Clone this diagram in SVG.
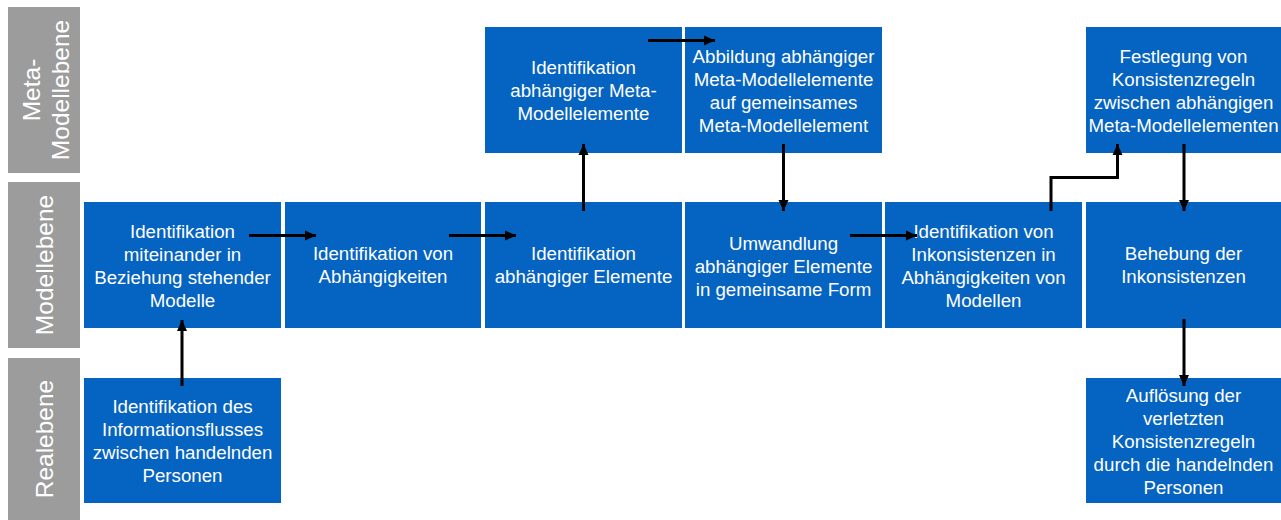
<svg xmlns="http://www.w3.org/2000/svg" width="1281" height="520" viewBox="0 0 1281 520">
  <style>
    .lane { fill: #9C9C9C; }
    .lane-label { fill: #FFFFFF; font-family: "Liberation Sans", Arial, sans-serif; font-size: 24.5px; text-anchor: middle; }
    .box { fill: #0563C1; }
    .label { fill: #FFFFFF; font-family: "Liberation Sans", Arial, sans-serif; font-size: 18.7px; text-anchor: middle; }
    .conn { fill: none; stroke: #000000; stroke-width: 3; marker-end: url(#head); }
  </style>
  <defs>
    <marker id="head" markerUnits="userSpaceOnUse" markerWidth="12" markerHeight="12" viewBox="0 0 12 12" refX="11" refY="6" orient="auto">
      <path d="M0,1 L11,6 L0,11 Z" fill="#000000"/>
    </marker>
  </defs>
  <rect width="1281" height="520" fill="#FFFFFF"/>

  <!-- Level lanes -->
  <g id="lane-meta">
    <rect class="lane" x="8" y="7" width="72" height="166"/>
    <g transform="translate(44,90) rotate(-90)">
      <text class="lane-label" x="0" y="-4">Meta-</text>
      <text class="lane-label" x="0" y="25">Modellebene</text>
    </g>
  </g>
  <g id="lane-modell">
    <rect class="lane" x="8" y="182" width="72" height="166"/>
    <text class="lane-label" transform="translate(44,265) rotate(-90)" x="0" y="9">Modellebene</text>
  </g>
  <g id="lane-real">
    <rect class="lane" x="8" y="358" width="72" height="162"/>
    <text class="lane-label" transform="translate(44,439) rotate(-90)" x="0" y="9">Realebene</text>
  </g>

  <!-- Process steps -->
  <g id="n-informationsfluss">
    <rect class="box" x="84" y="378" width="197" height="125"/>
    <text class="label"><tspan x="182.5" y="413">Identifikation des</tspan><tspan x="182.5" y="436">Informationsflusses</tspan><tspan x="182.5" y="459">zwischen handelnden</tspan><tspan x="182.5" y="482">Personen</tspan></text>
  </g>
  <g id="n-modelle">
    <rect class="box" x="84" y="202" width="197" height="126"/>
    <text class="label"><tspan x="182.5" y="237.5">Identifikation</tspan><tspan x="182.5" y="260.5">miteinander in</tspan><tspan x="182.5" y="283.5">Beziehung stehender</tspan><tspan x="182.5" y="306.5">Modelle</tspan></text>
  </g>
  <g id="n-abhaengigkeiten">
    <rect class="box" x="285" y="202" width="196" height="126"/>
    <text class="label"><tspan x="383" y="260">Identifikation von</tspan><tspan x="383" y="283">Abhängigkeiten</tspan></text>
  </g>
  <g id="n-elemente">
    <rect class="box" x="485" y="202" width="197" height="126"/>
    <text class="label"><tspan x="583.5" y="260">Identifikation</tspan><tspan x="583.5" y="283">abhängiger Elemente</tspan></text>
  </g>
  <g id="n-meta-elemente">
    <rect class="box" x="485" y="27" width="197" height="126"/>
    <text class="label"><tspan x="583.5" y="74">Identifikation</tspan><tspan x="583.5" y="97">abhängiger Meta-</tspan><tspan x="583.5" y="120">Modellelemente</tspan></text>
  </g>
  <g id="n-abbildung">
    <rect class="box" x="685" y="27" width="197" height="126"/>
    <text class="label"><tspan x="783.5" y="62.5">Abbildung abhängiger</tspan><tspan x="783.5" y="85.5">Meta-Modellelemente</tspan><tspan x="783.5" y="108.5">auf gemeinsames</tspan><tspan x="783.5" y="131.5">Meta-Modellelement</tspan></text>
  </g>
  <g id="n-umwandlung">
    <rect class="box" x="685" y="202" width="197" height="126"/>
    <text class="label"><tspan x="783.5" y="249.5">Umwandlung</tspan><tspan x="783.5" y="272.5">abhängiger Elemente</tspan><tspan x="783.5" y="295.5">in gemeinsame Form</tspan></text>
  </g>
  <g id="n-inkonsistenzen">
    <rect class="box" x="885" y="202" width="197" height="126"/>
    <text class="label"><tspan x="983.5" y="237.5">Identifikation von</tspan><tspan x="983.5" y="260.5">Inkonsistenzen in</tspan><tspan x="983.5" y="283.5">Abhängigkeiten von</tspan><tspan x="983.5" y="306.5">Modellen</tspan></text>
  </g>
  <g id="n-festlegung">
    <rect class="box" x="1086" y="27" width="195" height="126"/>
    <text class="label"><tspan x="1183.5" y="62.5">Festlegung von</tspan><tspan x="1183.5" y="85.5">Konsistenzregeln</tspan><tspan x="1183.5" y="108.5">zwischen abhängigen</tspan><tspan x="1183.5" y="131.5">Meta-Modellelementen</tspan></text>
  </g>
  <g id="n-behebung">
    <rect class="box" x="1086" y="202" width="195" height="126"/>
    <text class="label"><tspan x="1183.5" y="260">Behebung der</tspan><tspan x="1183.5" y="283">Inkonsistenzen</tspan></text>
  </g>
  <g id="n-aufloesung">
    <rect class="box" x="1086" y="378" width="195" height="125"/>
    <text class="label"><tspan x="1183.5" y="401.5">Auflösung der</tspan><tspan x="1183.5" y="424.5">verletzten</tspan><tspan x="1183.5" y="447.5">Konsistenzregeln</tspan><tspan x="1183.5" y="470.5">durch die handelnden</tspan><tspan x="1183.5" y="493.5">Personen</tspan></text>
  </g>

  <!-- Connectors -->
  <g id="connectors">
    <path class="conn" d="M182,386 V320"/>
    <path class="conn" d="M249,235.5 H316"/>
    <path class="conn" d="M449,235.5 H516"/>
    <path class="conn" d="M583.5,211 V144"/>
    <path class="conn" d="M648,40.5 H715"/>
    <path class="conn" d="M783.5,144 V211"/>
    <path class="conn" d="M850,235.5 H917"/>
    <path class="conn" d="M1051,211 V177.5 H1117.5 V144"/>
    <path class="conn" d="M1184,144 V211"/>
    <path class="conn" d="M1184,319 V386"/>
  </g>
</svg>
